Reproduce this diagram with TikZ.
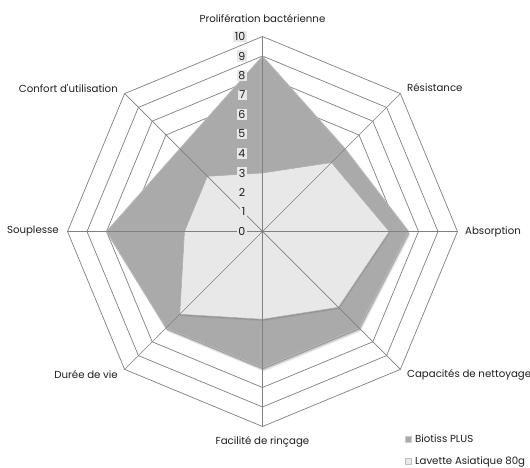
\documentclass[tikz,border=0pt]{standalone}
\usepackage{fontspec}
\setmainfont{Poppins}
\newfontfamily\rawfont{Poppins}
\definecolor{bio}{RGB}{170,170,170}
\definecolor{lav}{RGB}{232,232,232}
\definecolor{gridc}{RGB}{128,128,128}
\definecolor{txt}{RGB}{30,30,30}
\begin{document}
\begin{tikzpicture}[x=1pt,y=1pt,
  gridline/.style={draw=gridc,line width=0.7pt},
  axislabel/.style={font=\fontsize{10.2}{12}\selectfont,text=txt,inner sep=0pt},
  scalelabel/.style={font=\fontsize{11}{12}\selectfont,text=txt,fill=lav,inner sep=1.5pt,anchor=east},
  legendbox/.style={minimum size=6pt,inner sep=0pt,line width=0.6pt}]
\useasboundingbox (0,0) rectangle (530,468);
\fill[white] (0,0) rectangle (530,468);
\begin{scope}[shift={(262.5,236.5)}]
  % rings
  \foreach \r in {1,...,10}
    \draw[gridline] ({0}:{\r*19.5}) -- ({45}:{\r*19.5}) -- ({90}:{\r*19.5}) -- ({135}:{\r*19.5})
      -- ({180}:{\r*19.5}) -- ({225}:{\r*19.5}) -- ({270}:{\r*19.5}) -- ({315}:{\r*19.5}) -- cycle;
  % Biotiss shadow
  \foreach \s/\o in {1.2/0.22,2.4/0.14,3.6/0.08}
    \fill[black,opacity=\o,shift={(0.4*\s,-\s)}]
      (90:175.5) -- (45:117) -- (0:146.25) -- (-45:136.5) -- (-90:136.5) -- (-135:136.5) -- (180:156) -- (135:117) -- cycle;
  % Biotiss
  \fill[bio,draw=bio!80!white,line width=0.8pt]
      (90:175.5) -- (45:117) -- (0:146.25) -- (-45:136.5) -- (-90:136.5) -- (-135:136.5) -- (180:156) -- (135:117) -- cycle;
  % Lavette shadow
  \foreach \s/\o in {1/0.10,2/0.06}
    \fill[black,opacity=\o,shift={(0.3*\s,-\s)}]
      (90:58.5) -- (45:97.5) -- (0:126.75) -- (-45:107.25) -- (-90:87.75) -- (-135:117) -- (180:78) -- (135:78) -- cycle;
  % Lavette
  \fill[lav,draw=gray!65,line width=0.5pt]
      (90:58.5) -- (45:97.5) -- (0:126.75) -- (-45:107.25) -- (-90:87.75) -- (-135:117) -- (180:78) -- (135:78) -- cycle;
  % spokes
  \foreach \a in {0,45,...,315}
    \draw[gridline] (0,0) -- (\a:195);
  % scale labels
  \foreach \i in {0,...,10}
    \node[scalelabel] (s\i) at (-15.5,\i*19.5) {\i};
\end{scope}
% axis labels
\node[axislabel] (l1) at (262.5,449) {Prolifération bactérienne};
\node[axislabel,anchor=west] (l2) at (407,380) {Résistance};
\node[axislabel,anchor=west] (l3) at (465,236.5) {Absorption};
\node[axislabel,anchor=west] (l4) at (407,93) {Capacités de nettoyage};
\node[axislabel] (l5) at (262.5,26) {Facilité de rinçage};
\node[axislabel,anchor=east] (l6) at (118,93) {Durée de vie};
\node[axislabel,anchor=east] (l7) at (59,236.5) {Souplesse};
\node[axislabel,anchor=east] (l8) at (118,380) {Confort d{\rawfont'}utilisation};
% legend
\node[legendbox,fill=bio,draw=bio!60!white] (k1) at (408.5,29) {};
\node[axislabel,anchor=west] (t1) at (415,29) {Biotiss PLUS};
\node[legendbox,fill=lav,draw=gray!50] (k2) at (408.5,6.5) {};
\node[axislabel,anchor=west] (t2) at (415,6.5) {Lavette Asiatique 80g};
\end{tikzpicture}
\end{document}
